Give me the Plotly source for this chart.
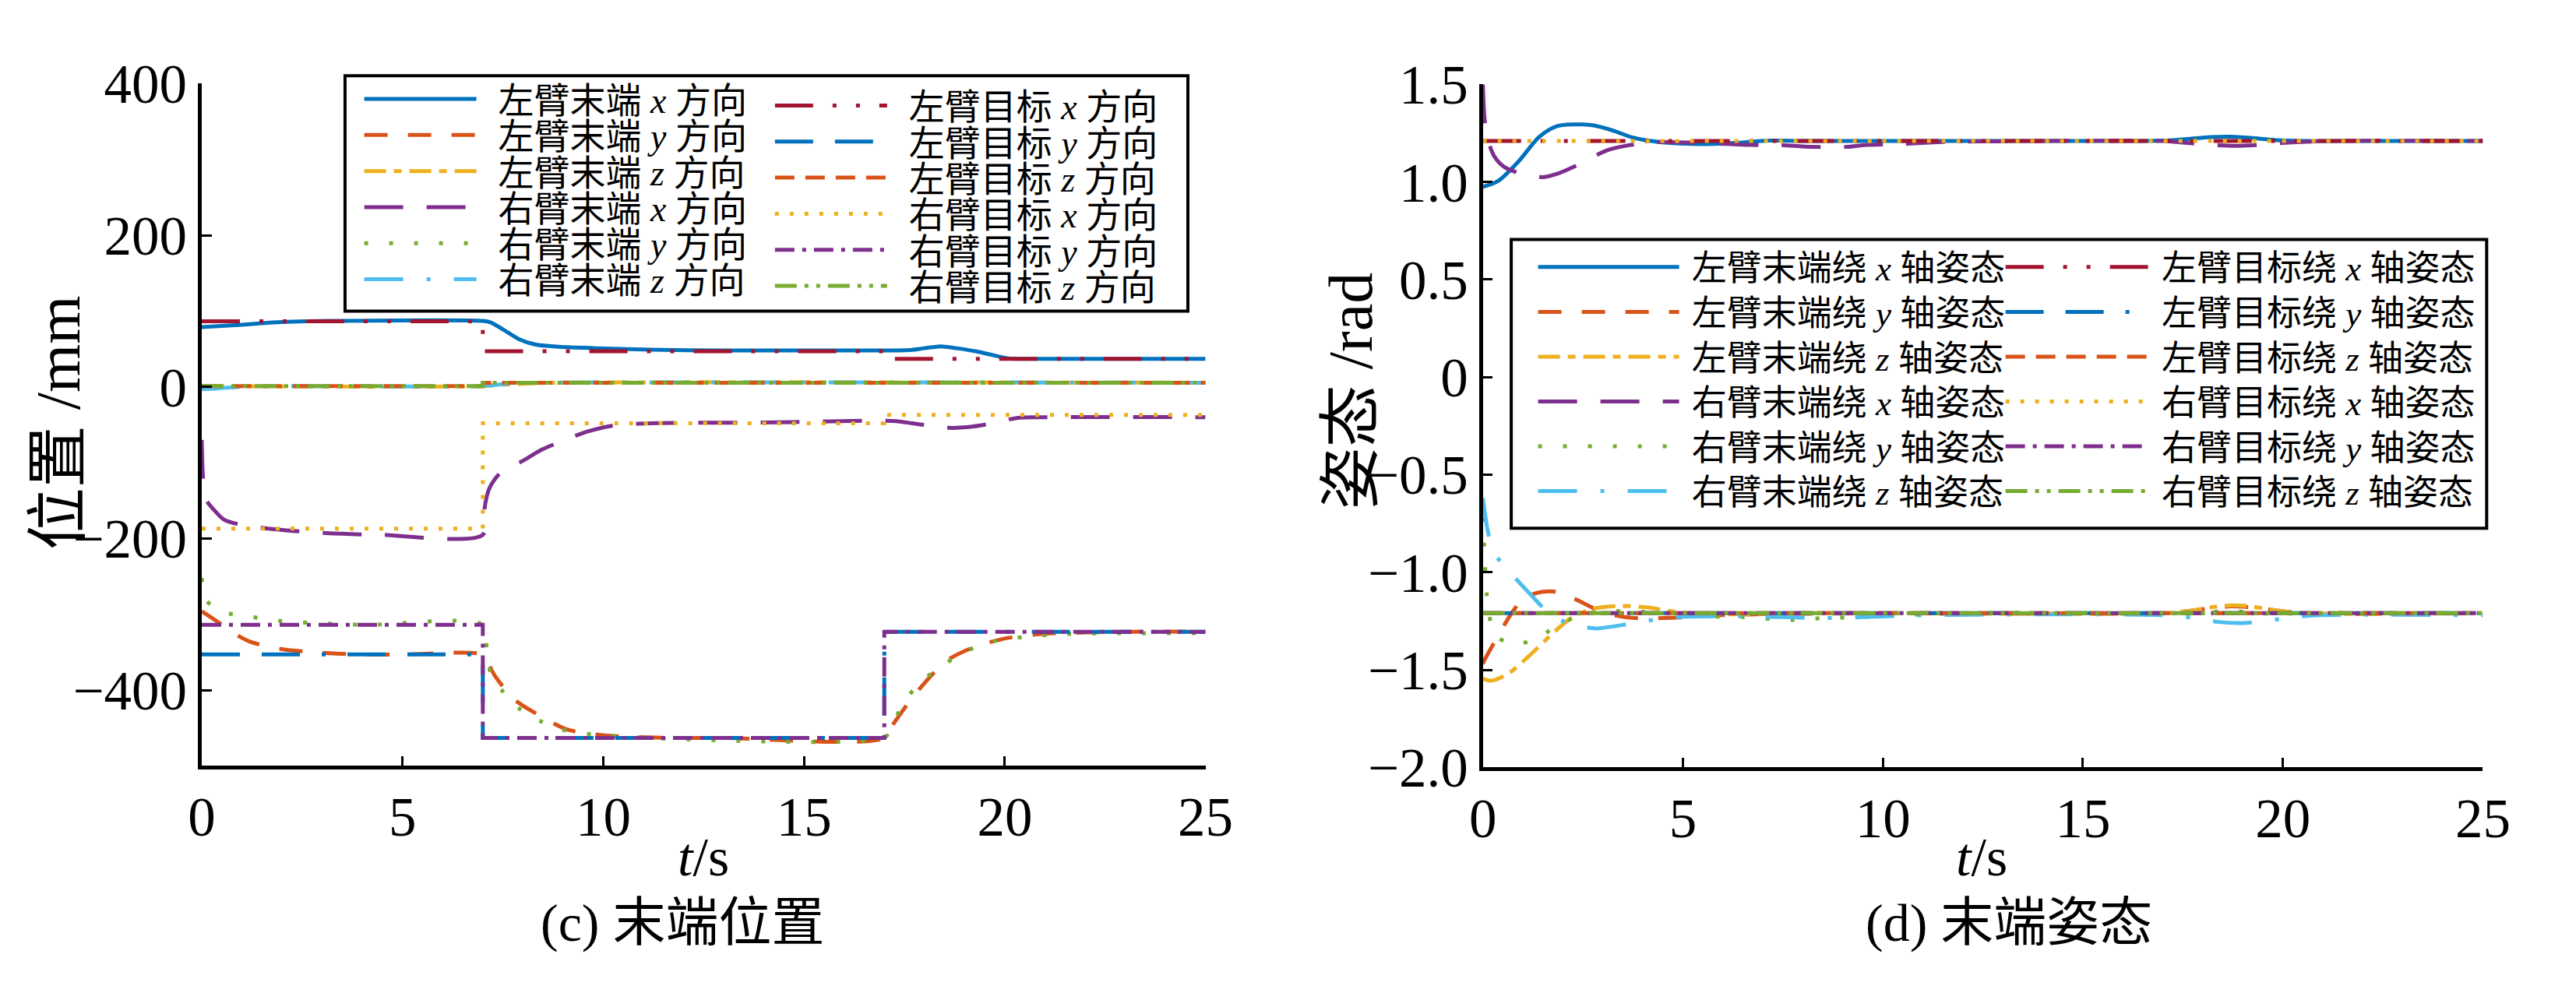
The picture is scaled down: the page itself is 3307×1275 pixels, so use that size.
import plotly.graph_objects as go

W, H = 3307, 1275
FONT = "Liberation Serif, Noto Sans CJK SC"

BLUE, ORANGE, YELLOW = "#0072BD", "#D95319", "#EDB120"
PURPLE, GREEN, CYAN, RED = "#7E2F8E", "#77AC30", "#4DBEEE", "#A2142F"

# ---------------- (c) 末端位置 ----------------
pos_names = ["左臂末端 <i>x</i> 方向", "左臂末端 <i>y</i> 方向", "左臂末端 <i>z</i> 方向",
             "右臂末端 <i>x</i> 方向", "右臂末端 <i>y</i> 方向", "右臂末端 <i>z</i> 方向",
             "左臂目标 <i>x</i> 方向", "左臂目标 <i>y</i> 方向", "左臂目标 <i>z</i> 方向",
             "右臂目标 <i>x</i> 方向", "右臂目标 <i>y</i> 方向", "右臂目标 <i>z</i> 方向"]

pos_t_lx_end = [0, 0.5, 1, 1.5, 2, 2.6, 3.2, 7.0, 7.2, 7.5, 7.9, 8.3, 8.9, 9.9, 11.2, 13, 15, 17,
                17.6, 18.0, 18.4, 18.8, 19.3, 19.7, 20.1, 20.5, 22, 25]
pos_lx_end = [79, 80.5, 82, 84, 85.5, 86.5, 87, 87, 85, 76, 63, 56, 53, 51, 49, 48, 48, 48,
              48.5, 51, 53.5, 51, 46.8, 42, 37.5, 37, 37, 37]

pos_t_ly_end = [0, 0.4, 0.8, 1.2, 2.0, 2.8, 3.9, 5, 7.0, 7.1, 7.3, 7.8, 8.5, 9.1, 10.1, 11.7, 13,
                17.0, 17.26, 17.7, 18.2, 18.65, 19.3, 20.1, 20.9, 22, 23, 25]
pos_ly_end = [-296, -310, -325, -336, -346, -350, -353, -353, -353, -361, -381, -413, -436, -452,
              -460, -463, -463, -463, -442, -410, -379, -358, -342, -331, -326, -324, -323, -323]

pos_t_lz_end = [0, 7.0, 7.4, 8.0, 8.8, 25]
pos_lz_end = [1, 1, 2.5, 4.2, 5.5, 5.5]

pos_t_rx_end = [0, 0.03, 0.1, 0.3, 0.55, 1, 1.85, 3.1, 4.4, 7.0, 7.05, 7.17, 7.5, 7.98, 8.46, 8.95,
                9.6, 10.25, 11.2, 14, 17.2, 17.7, 18.2, 18.6, 19.1, 19.7, 20.3, 21, 25]
pos_rx_end = [-70, -118, -148, -162, -175, -182, -188, -193, -195, -195, -158, -133, -110, -98,
              -83, -72, -59, -51, -48, -47, -45, -48, -52, -54, -53, -48, -41, -40, -40]

pos_t_ry_end = [0, 0.1, 0.55, 1.2, 1.8, 2.3, 3, 4.1, 7.0, 7.1, 7.2, 7.5, 7.9, 8.4, 8.96, 9.5, 10.1,
                11, 17.0, 17.15, 17.4, 17.75, 18.2, 18.7, 19.1, 19.7, 20.3, 21.5, 25]
pos_ry_end = [-252, -281, -297, -303, -308, -310, -312, -314, -314, -347, -378, -402, -424, -440,
              -452, -457, -460, -463, -463, -452, -425, -398, -377, -359, -347, -336, -331, -326,
              -325]

pos_t_rz_end = [0, 0.4, 0.9, 1.5, 7.0, 7.3, 7.8, 8.5, 25]
pos_rz_end = [-3, -2, 0, 1, 1, 2.5, 4.5, 5.5, 5.5]

pos_t_step = [0, 7, 17, 25]
pos_lx_tgt = [86.5, 47, 37, 37]
pos_ly_tgt = [-353, -463, -323, -323]
pos_lz_tgt = [1, 5.5, 5.5, 5.5]
pos_rx_tgt = [-187, -48, -37, -37]
pos_ry_tgt = [-314, -463, -323, -323]
pos_rz_tgt = [1, 5.5, 5.5, 5.5]

pos_yticks = [-400, -200, 0, 200, 400]
pos_yticktext = ["\u2212400", "\u2212200", "0", "200", "400"]

# ---------------- (d) 末端姿态 ----------------
ori_names = ["左臂末端绕 <i>x</i> 轴姿态", "左臂末端绕 <i>y</i> 轴姿态", "左臂末端绕 <i>z</i> 轴姿态",
             "右臂末端绕 <i>x</i> 轴姿态", "右臂末端绕 <i>y</i> 轴姿态", "右臂末端绕 <i>z</i> 轴姿态",
             "左臂目标绕 <i>x</i> 轴姿态", "左臂目标绕 <i>y</i> 轴姿态", "左臂目标绕 <i>z</i> 轴姿态",
             "右臂目标绕 <i>x</i> 轴姿态", "右臂目标绕 <i>y</i> 轴姿态", "右臂目标绕 <i>z</i> 轴姿态"]

ori_t_lx_end = [0, 0.38, 0.89, 1.4, 1.83, 2.26, 2.77, 3.28, 3.71, 4.14, 4.65, 5.4, 6.3, 7.15, 8,
                10, 14, 17, 17.6, 18.2, 18.7, 19.2, 19.8, 20.5, 22, 25]
ori_lx_end = [0.975, 1.005, 1.105, 1.23, 1.285, 1.295, 1.29, 1.262, 1.23, 1.212, 1.2, 1.194, 1.2,
              1.212, 1.21, 1.21, 1.21, 1.212, 1.22, 1.23, 1.232, 1.226, 1.215, 1.21, 1.21, 1.21]

ori_t_ly_end = [0, 0.04, 0.34, 0.63, 0.9, 1.15, 1.5, 1.83, 2.13, 2.43, 2.94, 3.4, 3.9, 4.5, 5.2, 6,
                7, 10, 17, 17.6, 18.2, 18.7, 19.2, 19.8, 20.5, 25]
ori_ly_end = [-1.47, -1.45, -1.34, -1.238, -1.16, -1.12, -1.1, -1.1, -1.12, -1.15, -1.2, -1.225,
              -1.236, -1.235, -1.23, -1.22, -1.215, -1.21, -1.21, -1.2, -1.185, -1.175, -1.18,
              -1.195, -1.21, -1.21]

ori_t_lz_end = [0, 0.2, 0.63, 1.15, 1.66, 2.17, 2.7, 3.37, 4.1, 4.9, 6, 8, 17, 17.6, 18.2, 18.7,
                19.2, 19.8, 20.5, 25]
ori_lz_end = [-1.545, -1.556, -1.52, -1.43, -1.33, -1.24, -1.19, -1.173, -1.18, -1.205, -1.215,
              -1.21, -1.21, -1.2, -1.18, -1.17, -1.175, -1.195, -1.21, -1.21]

ori_t_rx_end = [0, 0.04, 0.12, 0.29, 0.55, 1.06, 1.5, 1.9, 2.4, 3.1, 3.7, 4.3, 5.5, 6.7, 7.4, 8.2,
                9.1, 9.6, 10.5, 11.5, 14, 17, 17.6, 18.2, 18.8, 19.4, 20, 21, 25]
ori_rx_end = [1.5, 1.33, 1.22, 1.13, 1.075, 1.037, 1.025, 1.045, 1.09, 1.162, 1.19, 1.205, 1.2,
              1.19, 1.19, 1.18, 1.18, 1.19, 1.195, 1.205, 1.21, 1.21, 1.2, 1.19, 1.185, 1.19,
              1.2, 1.21, 1.21]

ori_t_ry_end = [0, 0.05, 0.1, 0.2, 0.35, 0.6, 0.85, 1.2, 1.5, 1.9, 2.45, 3.0, 3.6, 4.2, 5, 5.5,
                6.5, 7.8, 8.5, 9.5, 10.5, 12, 17, 18, 18.6, 19.2, 19.8, 20.5, 25]
ori_ry_end = [-0.72, -0.95, -1.12, -1.26, -1.33, -1.36, -1.37, -1.35, -1.32, -1.27, -1.22, -1.2,
              -1.2, -1.205, -1.215, -1.225, -1.23, -1.245, -1.235, -1.23, -1.22, -1.21, -1.21,
              -1.205, -1.2, -1.205, -1.215, -1.21, -1.21]

ori_t_rz_end = [0, 0.12, 0.27, 0.63, 0.9, 1.22, 1.6, 2.1, 2.5, 2.85, 3.5, 4.07, 4.8, 6, 7.5, 8.5,
                9.5, 11, 17, 17.8, 18.4, 19.0, 19.6, 20.2, 21, 25]
ori_rz_end = [-0.62, -0.786, -0.897, -0.99, -1.05, -1.12, -1.2, -1.26, -1.28, -1.288, -1.27,
              -1.25, -1.23, -1.225, -1.23, -1.235, -1.23, -1.22, -1.22, -1.235, -1.255, -1.26,
              -1.25, -1.23, -1.22, -1.22]

ori_t_tgt = [0, 25]
ori_lx_tgt = [1.21, 1.21]
ori_ly_tgt = [-1.21, -1.21]
ori_lz_tgt = [-1.21, -1.21]
ori_rx_tgt = [1.21, 1.21]
ori_ry_tgt = [-1.21, -1.21]
ori_rz_tgt = [-1.21, -1.21]

ori_yticks = [-2.0, -1.5, -1.0, -0.5, 0, 0.5, 1.0, 1.5]
ori_yticktext = ["\u22122.0", "\u22121.5", "\u22121.0", "\u22120.5", "0", "0.5", "1.0", "1.5"]

t_ticks = [0, 5, 10, 15, 20, 25]

# line styles, same order as the legend entries
styles = [
    (BLUE, "solid"),
    (ORANGE, "30px,26px"),
    (YELLOW, "28px,10px,10px,10px"),
    (PURPLE, "50px,30px"),
    (GREEN, "5px,27px"),
    (CYAN, "50px,30px,5px,30px"),
    (RED, "49px,25px,5px,25px,5px,25px"),
    (BLUE, "49px,28px,49px,28px,5px,28px"),
    (ORANGE, "25px,14px"),
    (YELLOW, "5px,14px"),
    (PURPLE, "25px,10px,5px,10px"),
    (GREEN, "28px,10px,5px,10px,5px,10px"),
]

pos_series = [
    (pos_t_lx_end, pos_lx_end, "spline"), (pos_t_ly_end, pos_ly_end, "spline"),
    (pos_t_lz_end, pos_lz_end, "spline"), (pos_t_rx_end, pos_rx_end, "spline"),
    (pos_t_ry_end, pos_ry_end, "spline"), (pos_t_rz_end, pos_rz_end, "spline"),
    (pos_t_step, pos_lx_tgt, "hv"), (pos_t_step, pos_ly_tgt, "hv"),
    (pos_t_step, pos_lz_tgt, "hv"), (pos_t_step, pos_rx_tgt, "hv"),
    (pos_t_step, pos_ry_tgt, "hv"), (pos_t_step, pos_rz_tgt, "hv"),
]
ori_series = [
    (ori_t_lx_end, ori_lx_end, "spline"), (ori_t_ly_end, ori_ly_end, "spline"),
    (ori_t_lz_end, ori_lz_end, "spline"), (ori_t_rx_end, ori_rx_end, "spline"),
    (ori_t_ry_end, ori_ry_end, "spline"), (ori_t_rz_end, ori_rz_end, "spline"),
    (ori_t_tgt, ori_lx_tgt, "hv"), (ori_t_tgt, ori_ly_tgt, "hv"),
    (ori_t_tgt, ori_lz_tgt, "hv"), (ori_t_tgt, ori_rx_tgt, "hv"),
    (ori_t_tgt, ori_ry_tgt, "hv"), (ori_t_tgt, ori_rz_tgt, "hv"),
]


def px(x):
    return x / W


def py(y):
    return 1 - y / H


def legend_key(k):
    return "legend" if k == 1 else f"legend{k}"


fig = go.Figure()
legends = {}

# legend geometry in page pixels: (line start, line length, first row centre y)
panels = [
    ("x", "y", pos_series, pos_names,
     [(457, 144, 95), (993, 144, 104)], 49.3, 46, "\u00a0\u00a0"),
    ("x2", "y2", ori_series, ori_names,
     [(1989, 181, 325), (2599, 184, 325)], 61.3, 45, "\u00a0"),
]

k = 0
for xa, ya, series, names, cols, row_step, fsize, pad in panels:
    for i, (t, v, shape) in enumerate(series):
        k += 1
        color, dash = styles[i]
        col = cols[i // 6]
        row = i % 6
        key = legend_key(k)
        fig.add_trace(go.Scatter(
            x=t, y=v, mode="lines", name=pad + names[i], xaxis=xa, yaxis=ya,
            line=dict(color=color, width=5, dash=dash, shape=shape,
                      smoothing=0.8 if shape == "spline" else None),
            legend=key, showlegend=True, hoverinfo="skip"))
        legends[key] = dict(
            x=px(col[0] - 5), y=py(col[2] + row * row_step), xanchor="left", yanchor="middle",
            bgcolor="rgba(0,0,0,0)", borderwidth=0, itemwidth=col[1], visible=True,
            font=dict(family=FONT, size=fsize, color="black"))

axis_common = dict(showline=True, linecolor="black", linewidth=4.5, ticks="inside",
                   ticklen=13, tickwidth=3, tickcolor="black", showgrid=False, zeroline=False,
                   tickfont=dict(family=FONT, size=71, color="black"), mirror=False)

fig.update_layout(
    width=W, height=H, margin=dict(l=0, r=0, t=0, b=0), showlegend=True,
    paper_bgcolor="white", plot_bgcolor="white",
    xaxis=dict(domain=[px(245), px(1555)], range=[0, 25], tickvals=t_ticks,
               anchor="y", **axis_common),
    yaxis=dict(domain=[py(1007), py(74)], range=[-500, 400], tickvals=pos_yticks,
               ticktext=pos_yticktext, anchor="x", **axis_common),
    xaxis2=dict(domain=[px(1917), px(3222)], range=[0, 25], tickvals=t_ticks,
                anchor="y2", **axis_common),
    yaxis2=dict(domain=[py(1009), py(75)], range=[-2.0, 1.5], tickvals=ori_yticks,
                ticktext=ori_yticktext, anchor="x2", **axis_common),
    shapes=[
        dict(type="rect", xref="paper", yref="paper", x0=px(432), x1=px(1532),
             y0=py(385), y1=py(63), line=dict(color="black", width=4), fillcolor="white",
             layer="above"),
        dict(type="rect", xref="paper", yref="paper", x0=px(1954), x1=px(3227),
             y0=py(682), y1=py(287), line=dict(color="black", width=4), fillcolor="white",
             layer="above"),
    ],
    **legends,
)

texts = [
    ("位置 /mm", 58, 538, -90, 80),
    ("姿态 /rad", 1744, 495, -90, 80),
    ("<i>t</i>/s", 900, 1132, 0, 70),
    ("<i>t</i>/s", 2568, 1132, 0, 70),
    ("(c) 末端位置", 872, 1222, 0, 68),
    ("(d) 末端姿态", 2604, 1222, 0, 68),
]
for txt, x, y, ang, size in texts:
    fig.add_annotation(text=txt, x=px(x), y=py(y), xref="paper", yref="paper",
                       showarrow=False, textangle=ang, xanchor="center", yanchor="middle",
                       font=dict(family=FONT, size=size, color="black"))

fig.write_html("out.html", config={"displayModeBar": False},
               post_script="document.body.style.margin='0';")
